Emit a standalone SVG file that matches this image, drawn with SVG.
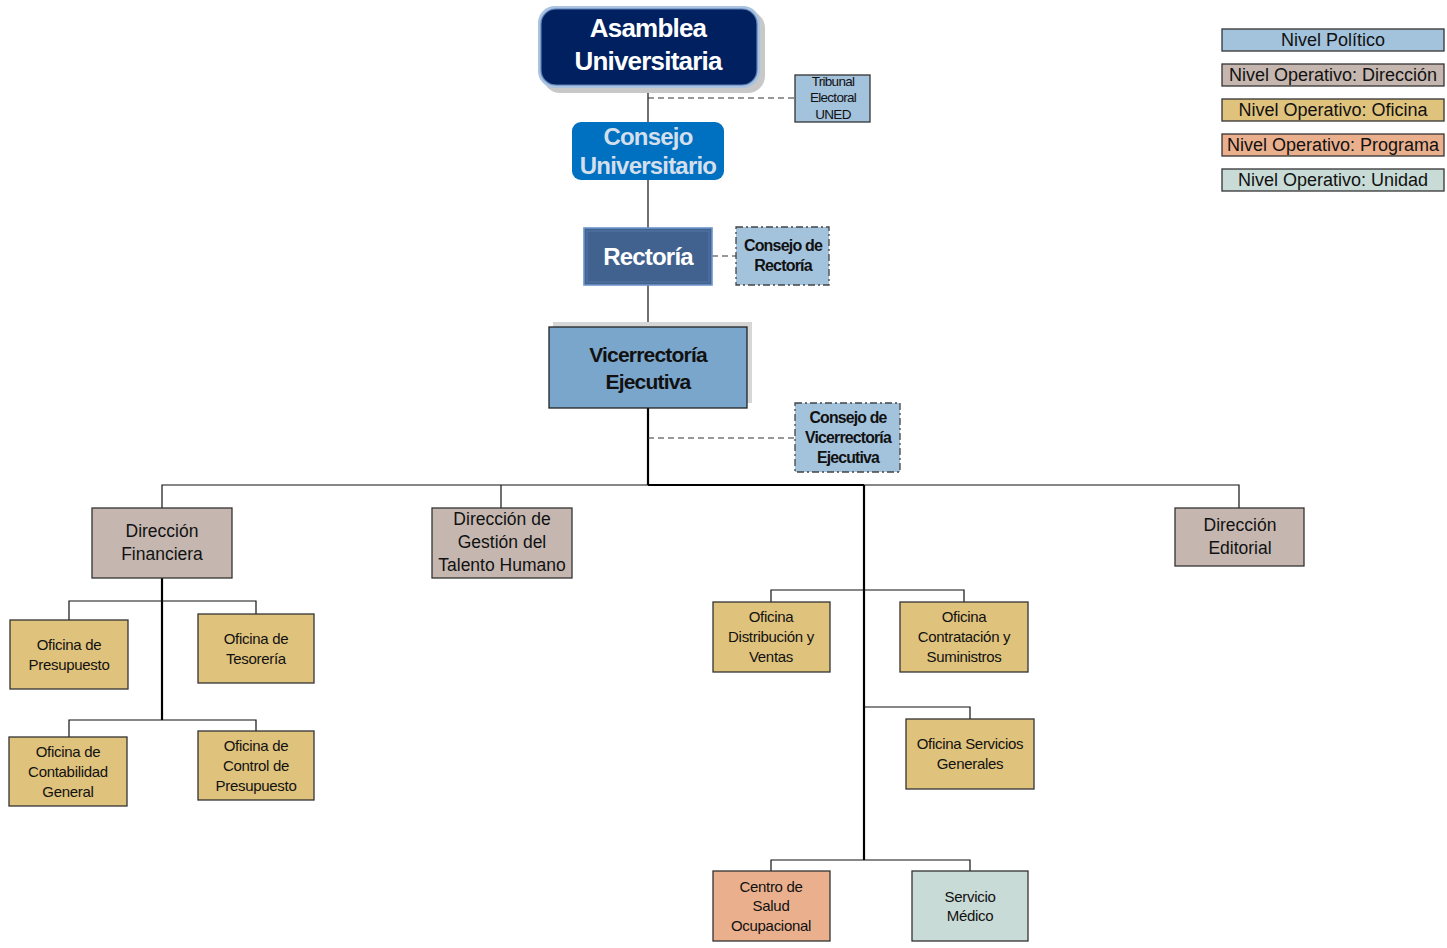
<svg xmlns="http://www.w3.org/2000/svg" width="1447" height="948" viewBox="0 0 1447 948">
<style>
text{font-family:"Liberation Sans",Arial,sans-serif;text-anchor:middle;dominant-baseline:central;fill:#111}
.b{font-weight:bold;letter-spacing:-0.8px}
.n{stroke:#333;stroke-width:1.3}
.dir{fill:#c5b7b0}
.ofi{fill:#dfc27c}
.pro{fill:#eab08e}
.uni{fill:#c9dbd6}
.pol{fill:#a3c2dc}
.t15{font-size:15px;letter-spacing:-0.3px}
.t17{font-size:17.5px}
.lg{font-size:18px}
.dash{stroke:#333;stroke-width:1.2;stroke-dasharray:6 4;fill:none}
.dd{stroke:#444;stroke-width:1.3;stroke-dasharray:7 3 2 3}
.c{stroke:#111;stroke-width:1.2;fill:none}
.ck{stroke:#000;stroke-width:2.2;fill:none}
</style>
<rect width="1447" height="948" fill="#fff"/>
<g id="connectors">
<line class="c" x1="648" y1="88" x2="648" y2="228" stroke="#444"/>
<line class="dash" x1="648" y1="98" x2="795" y2="98"/>
<line class="dash" x1="712" y1="256" x2="736" y2="256"/>
<line class="c" x1="648" y1="285" x2="648" y2="327" stroke="#444"/>
<line class="ck" x1="648" y1="408" x2="648" y2="485"/>
<line class="dash" x1="648" y1="438" x2="795" y2="438" stroke="#555"/>
<polyline class="c" points="162,508 162,485 1239,485 1239,508"/>
<line class="ck" x1="648" y1="485" x2="864" y2="485" stroke-width="1.8"/>
<line class="c" x1="501" y1="485" x2="501" y2="508"/>
<line class="ck" x1="864" y1="485" x2="864" y2="860" stroke-width="2"/>
<line class="ck" x1="162" y1="578" x2="162" y2="720" stroke-width="1.8"/>
<polyline class="c" points="69,620 69,601 256,601 256,614"/>
<polyline class="c" points="69,737 69,720 256,720 256,731"/>
<polyline class="c" points="771,602 771,590 964,590 964,602"/>
<polyline class="c" points="864,707 970,707 970,719"/>
<polyline class="c" points="771,871 771,860 970,860 970,871"/>
</g>
<g id="asamblea">
<rect x="543" y="11" width="222" height="82" rx="17" fill="#c8c8c8"/>
<rect x="538" y="6" width="222" height="82" rx="17" fill="#a9c3e0"/>
<rect x="541" y="9" width="216" height="76" rx="15" fill="#002060" stroke="#5d7fb5" stroke-width="1.2"/>
<text x="648" y="28" class="b" font-size="26" style="fill:#fff">Asamblea</text>
<text x="648" y="61" class="b" font-size="26" style="fill:#fff">Universitaria</text>
</g>
<g id="tribunal">
<rect x="795" y="75" width="75" height="47" class="pol n"/>
<text x="833" y="81" font-size="13.5" letter-spacing="-0.7">Tribunal</text>
<text x="833" y="97" font-size="13.5" letter-spacing="-0.7">Electoral</text>
<text x="833" y="114" font-size="13.5" letter-spacing="-0.7">UNED</text>
</g>
<g id="consejo-universitario">
<rect x="572" y="122" width="152" height="58" rx="9" fill="#0070c0"/>
<text x="648" y="136" class="b" font-size="24" style="fill:#d3dfec">Consejo</text>
<text x="648" y="165" class="b" font-size="24" style="fill:#d3dfec">Universitario</text>
</g>
<g id="rectoria">
<rect x="584" y="228" width="128" height="57" fill="#41628f" stroke="#6d95c9" stroke-width="1.6"/>
<rect x="587" y="231" width="122" height="51" fill="none" stroke="#5a7cab" stroke-width="0.8"/>
<text x="648" y="256" class="b" font-size="24" style="fill:#fff">Rectoría</text>
</g>
<g id="consejo-rectoria">
<rect x="736" y="227" width="93" height="58" class="pol dd"/>
<text x="783" y="245" class="b" font-size="16" letter-spacing="-0.6">Consejo de</text>
<text x="783" y="265" class="b" font-size="16" letter-spacing="-0.6">Rectoría</text>
</g>
<g id="vicerrectoria">
<rect x="553" y="322" width="199" height="81" fill="#d6d6d6"/>
<rect x="549" y="327" width="198" height="81" fill="#7ba6cb" stroke="#222" stroke-width="1.3"/>
<text x="648" y="354" class="b" font-size="21">Vicerrectoría</text>
<text x="648" y="381" class="b" font-size="21">Ejecutiva</text>
</g>
<g id="consejo-vicerrectoria">
<rect x="795" y="403" width="105" height="69" class="pol dd"/>
<text x="848" y="417" class="b" font-size="15.8" letter-spacing="-0.6">Consejo de</text>
<text x="848" y="437" class="b" font-size="15.8" letter-spacing="-0.6">Vicerrectoría</text>
<text x="848" y="457" class="b" font-size="15.8" letter-spacing="-0.6">Ejecutiva</text>
</g>
<g id="dir-financiera">
<rect x="92" y="508" width="140" height="70" class="dir n"/>
<text x="162" y="531" class="t17">Dirección</text>
<text x="162" y="554" class="t17">Financiera</text>
</g>
<g id="dir-talento">
<rect x="432" y="508" width="140" height="70" class="dir n"/>
<text x="502" y="519" class="t17">Dirección de</text>
<text x="502" y="542" class="t17">Gestión del</text>
<text x="502" y="565" class="t17">Talento Humano</text>
</g>
<g id="dir-editorial">
<rect x="1175" y="508" width="129" height="58" class="dir n"/>
<text x="1240" y="525" class="t17">Dirección</text>
<text x="1240" y="548" class="t17">Editorial</text>
</g>
<g id="of-presupuesto">
<rect x="10" y="620" width="118" height="69" class="ofi n"/>
<text x="69" y="644" class="t15">Oficina de</text>
<text x="69" y="664" class="t15">Presupuesto</text>
</g>
<g id="of-tesoreria">
<rect x="198" y="614" width="116" height="69" class="ofi n"/>
<text x="256" y="638" class="t15">Oficina de</text>
<text x="256" y="658" class="t15">Tesorería</text>
</g>
<g id="of-contabilidad">
<rect x="9" y="737" width="118" height="69" class="ofi n"/>
<text x="68" y="751" class="t15">Oficina de</text>
<text x="68" y="771" class="t15">Contabilidad</text>
<text x="68" y="791" class="t15">General</text>
</g>
<g id="of-control">
<rect x="198" y="731" width="116" height="69" class="ofi n"/>
<text x="256" y="745" class="t15">Oficina de</text>
<text x="256" y="765" class="t15">Control de</text>
<text x="256" y="785" class="t15">Presupuesto</text>
</g>
<g id="of-distribucion">
<rect x="713" y="602" width="117" height="70" class="ofi n"/>
<text x="771" y="616" class="t15">Oficina</text>
<text x="771" y="636" class="t15">Distribución y</text>
<text x="771" y="656" class="t15">Ventas</text>
</g>
<g id="of-contratacion">
<rect x="900" y="602" width="128" height="70" class="ofi n"/>
<text x="964" y="616" class="t15">Oficina</text>
<text x="964" y="636" class="t15">Contratación y</text>
<text x="964" y="656" class="t15">Suministros</text>
</g>
<g id="of-servicios">
<rect x="906" y="719" width="128" height="70" class="ofi n"/>
<text x="970" y="743" class="t15">Oficina Servicios</text>
<text x="970" y="763" class="t15">Generales</text>
</g>
<g id="centro-salud">
<rect x="713" y="871" width="117" height="70" class="pro n"/>
<text x="771" y="886" class="t15">Centro de</text>
<text x="771" y="905" class="t15">Salud</text>
<text x="771" y="925" class="t15">Ocupacional</text>
</g>
<g id="servicio-medico">
<rect x="912" y="871" width="116" height="70" class="uni n"/>
<text x="970" y="896" class="t15">Servicio</text>
<text x="970" y="915" class="t15">Médico</text>
</g>
<g id="legend">
<rect x="1222" y="29" width="222" height="22" class="pol n" stroke="#666"/>
<text x="1333" y="40" class="lg">Nivel Político</text>
<rect x="1222" y="64" width="222" height="22" class="dir n" stroke="#666"/>
<text x="1333" y="75" class="lg">Nivel Operativo: Dirección</text>
<rect x="1222" y="99" width="222" height="22" class="ofi n" stroke="#666"/>
<text x="1333" y="110" class="lg">Nivel Operativo: Oficina</text>
<rect x="1222" y="134" width="222" height="22" class="pro n" stroke="#666"/>
<text x="1333" y="145" class="lg">Nivel Operativo: Programa</text>
<rect x="1222" y="169" width="222" height="22" class="uni n" stroke="#666"/>
<text x="1333" y="180" class="lg">Nivel Operativo: Unidad</text>
</g>
</svg>
